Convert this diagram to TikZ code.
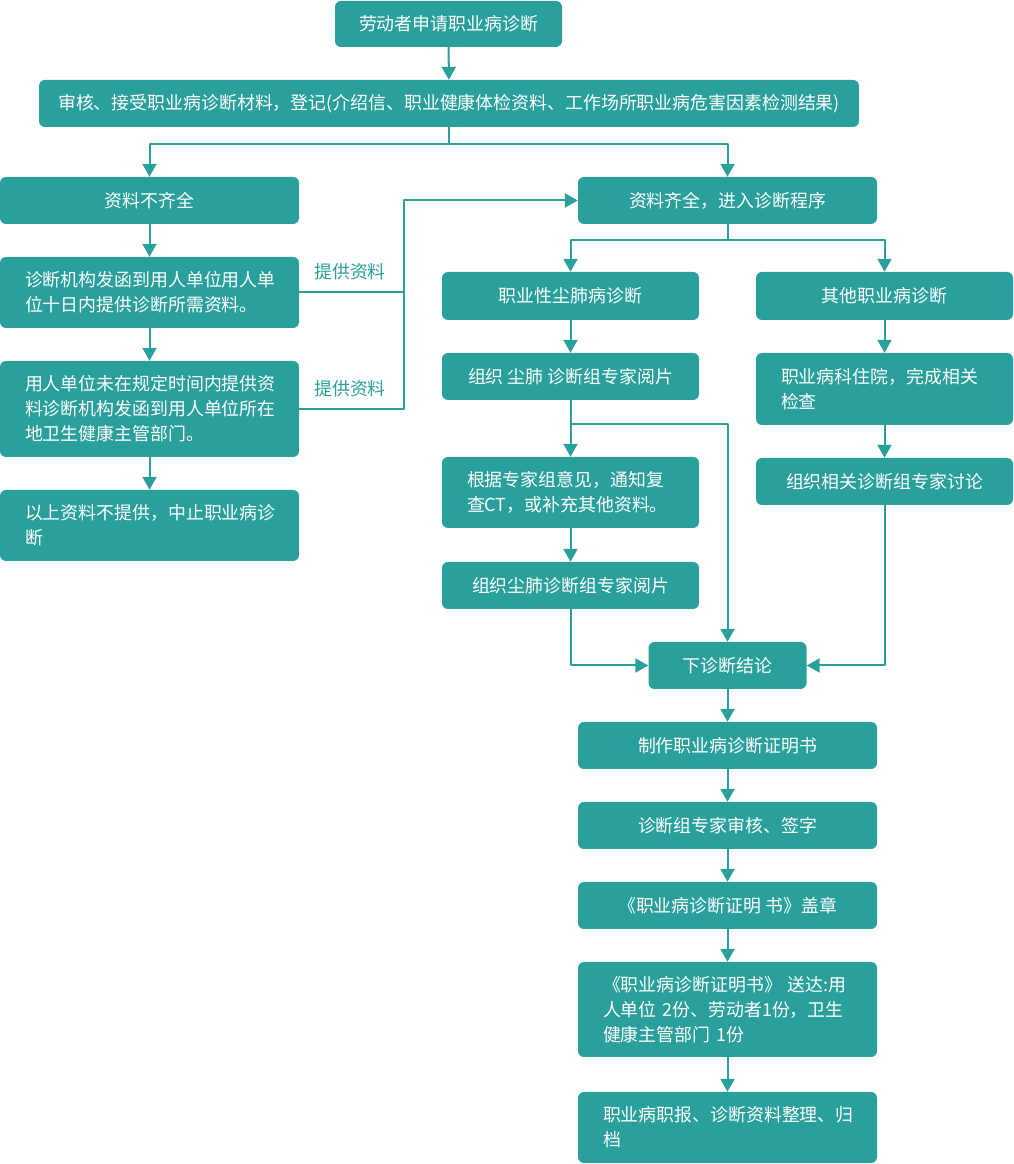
\documentclass[tikz,border=0pt]{standalone}
\usepackage{fontspec}
\setmainfont{Noto Sans CJK SC}
\usetikzlibrary{arrows.meta}
\definecolor{boxteal}{HTML}{2AA09D}
\tikzset{
  stepnode/.style={fill=boxteal,text=white,rounded corners=6bp,inner sep=0pt,font=\fontsize{17.9bp}{25bp}\selectfont},
  leftnode/.style={stepnode,align=left,inner xsep=25bp},
  flowline/.style={boxteal,line width=2bp},
}
\begin{document}
\begin{tikzpicture}[>={Triangle[length=13bp,width=14bp]},line join=bevel,]
\useasboundingbox (0bp,0bp) rectangle (1014bp,1164bp);
%%
\node (node_0) at (448.5bp,1140bp) [stepnode,minimum width=227bp,minimum height=46bp] {劳动者申请职业病诊断};
  \node (node_1) at (449bp,1060.5bp) [stepnode,minimum width=820bp,minimum height=47bp] {审核、接受职业病诊断材料，登记(介绍信、职业健康体检资料、工作场所职业病危害因素检测结果)};
  \node (node_2) at (149.5bp,963.5bp) [stepnode,minimum width=299bp,minimum height=47bp] {资料不齐全};
  \node (node_3) at (727.5bp,963.5bp) [stepnode,minimum width=299bp,minimum height=47bp] {资料齐全，进入诊断程序};
  \node (node_4) at (149.5bp,871.5bp) [leftnode,text width=249bp,minimum height=71bp] {诊断机构发函到用人单位用人单\\位十日内提供诊断所需资料。};
  \node (node_5) at (149.5bp,755bp) [leftnode,text width=249bp,minimum height=96bp] {用人单位未在规定时间内提供资\\料诊断机构发函到用人单位所在\\地卫生健康主管部门。};
  \node (node_6) at (149.5bp,638.5bp) [leftnode,text width=249bp,minimum height=71bp] {以上资料不提供，中止职业病诊\\断};
  \node (node_7) at (570.5bp,868bp) [stepnode,minimum width=257bp,minimum height=48bp] {职业性尘肺病诊断};
  \node (node_8) at (884.5bp,868bp) [stepnode,minimum width=257bp,minimum height=48bp] {其他职业病诊断};
  \node (node_9) at (570.5bp,787.5bp) [stepnode,minimum width=257bp,minimum height=47bp] {组织 尘肺 诊断组专家阅片};
  \node (node_10) at (884.5bp,775bp) [leftnode,text width=207bp,minimum height=72bp] {职业病科住院，完成相关\\检查};
  \node (node_11) at (570.5bp,671.5bp) [leftnode,text width=207bp,minimum height=71bp] {根据专家组意见，通知复\\查CT，或补充其他资料。};
  \node (node_12) at (884.5bp,682.5bp) [stepnode,minimum width=257bp,minimum height=47bp] {组织相关诊断组专家讨论};
  \node (node_13) at (570.5bp,578.5bp) [stepnode,minimum width=257bp,minimum height=47bp] {组织尘肺诊断组专家阅片};
  \node (node_14) at (727.5bp,498.5bp) [stepnode,minimum width=158bp,minimum height=47bp] {下诊断结论};
  \node (node_15) at (727.5bp,418.5bp) [stepnode,minimum width=299bp,minimum height=47bp] {制作职业病诊断证明书};
  \node (node_16) at (727.5bp,338.5bp) [stepnode,minimum width=299bp,minimum height=47bp] {诊断组专家审核、签字};
  \node (node_17) at (727.5bp,258.5bp) [stepnode,minimum width=299bp,minimum height=47bp] {《职业病诊断证明 书》盖章};
  \node (node_18) at (727.5bp,154.5bp) [leftnode,text width=249bp,minimum height=95bp] {《职业病诊断证明书》 送达:用\\人单位 2份、劳动者1份，卫生\\健康主管部门 1份};
  \node (node_19) at (727.5bp,36.5bp) [leftnode,text width=249bp,minimum height=71bp] {职业病职报、诊断资料整理、归\\档};
  \node (node_20) at (350bp,892bp) [text=boxteal,font=\fontsize{17.9bp}{25bp}\selectfont] {提供资料};
  \node (node_21) at (350bp,775bp) [text=boxteal,font=\fontsize{17.9bp}{25bp}\selectfont] {提供资料};
%
\coordinate (split_a) at (449bp,1020bp);
  \coordinate (split_b) at (727.5bp,924bp);
  \coordinate (split_c) at (570.5bp,740bp);
  \coordinate (join_a) at (404bp,963.5bp);
  \coordinate (join_b) at (404bp,871.5bp);
%
\draw [flowline,->] (node_0) -- (node_1);
  \draw [flowline] (node_1.south) -- (split_a);
  \draw [flowline,->] (split_a) -| (node_2);
  \draw [flowline,->] (split_a) -| (node_3);
  \draw [flowline,->] (node_2) -- (node_4);
  \draw [flowline,->] (node_4) -- (node_5);
  \draw [flowline,->] (node_5) -- (node_6);
  \draw [flowline] (node_4.east) -- (join_b);
  \draw [flowline,->] (node_5.east) -| (join_a) -- (node_3.west);
  \draw [flowline] (node_3.south) -- (split_b);
  \draw [flowline,->] (split_b) -| (node_7);
  \draw [flowline,->] (split_b) -| (node_8);
  \draw [flowline,->] (node_7) -- (node_9);
  \draw [flowline,->] (node_9) -- (node_11);
  \draw [flowline,->] (split_c) -| (node_14);
  \draw [flowline,->] (node_11) -- (node_13);
  \draw [flowline,->] (node_8) -- (node_10);
  \draw [flowline,->] (node_10) -- (node_12);
  \draw [flowline,->] (node_13.south) |- (node_14.west);
  \draw [flowline,->] (node_12.south) |- (node_14.east);
  \draw [flowline,->] (node_14) -- (node_15);
  \draw [flowline,->] (node_15) -- (node_16);
  \draw [flowline,->] (node_16) -- (node_17);
  \draw [flowline,->] (node_17) -- (node_18);
  \draw [flowline,->] (node_18) -- (node_19);
%
\end{tikzpicture}
\end{document}
